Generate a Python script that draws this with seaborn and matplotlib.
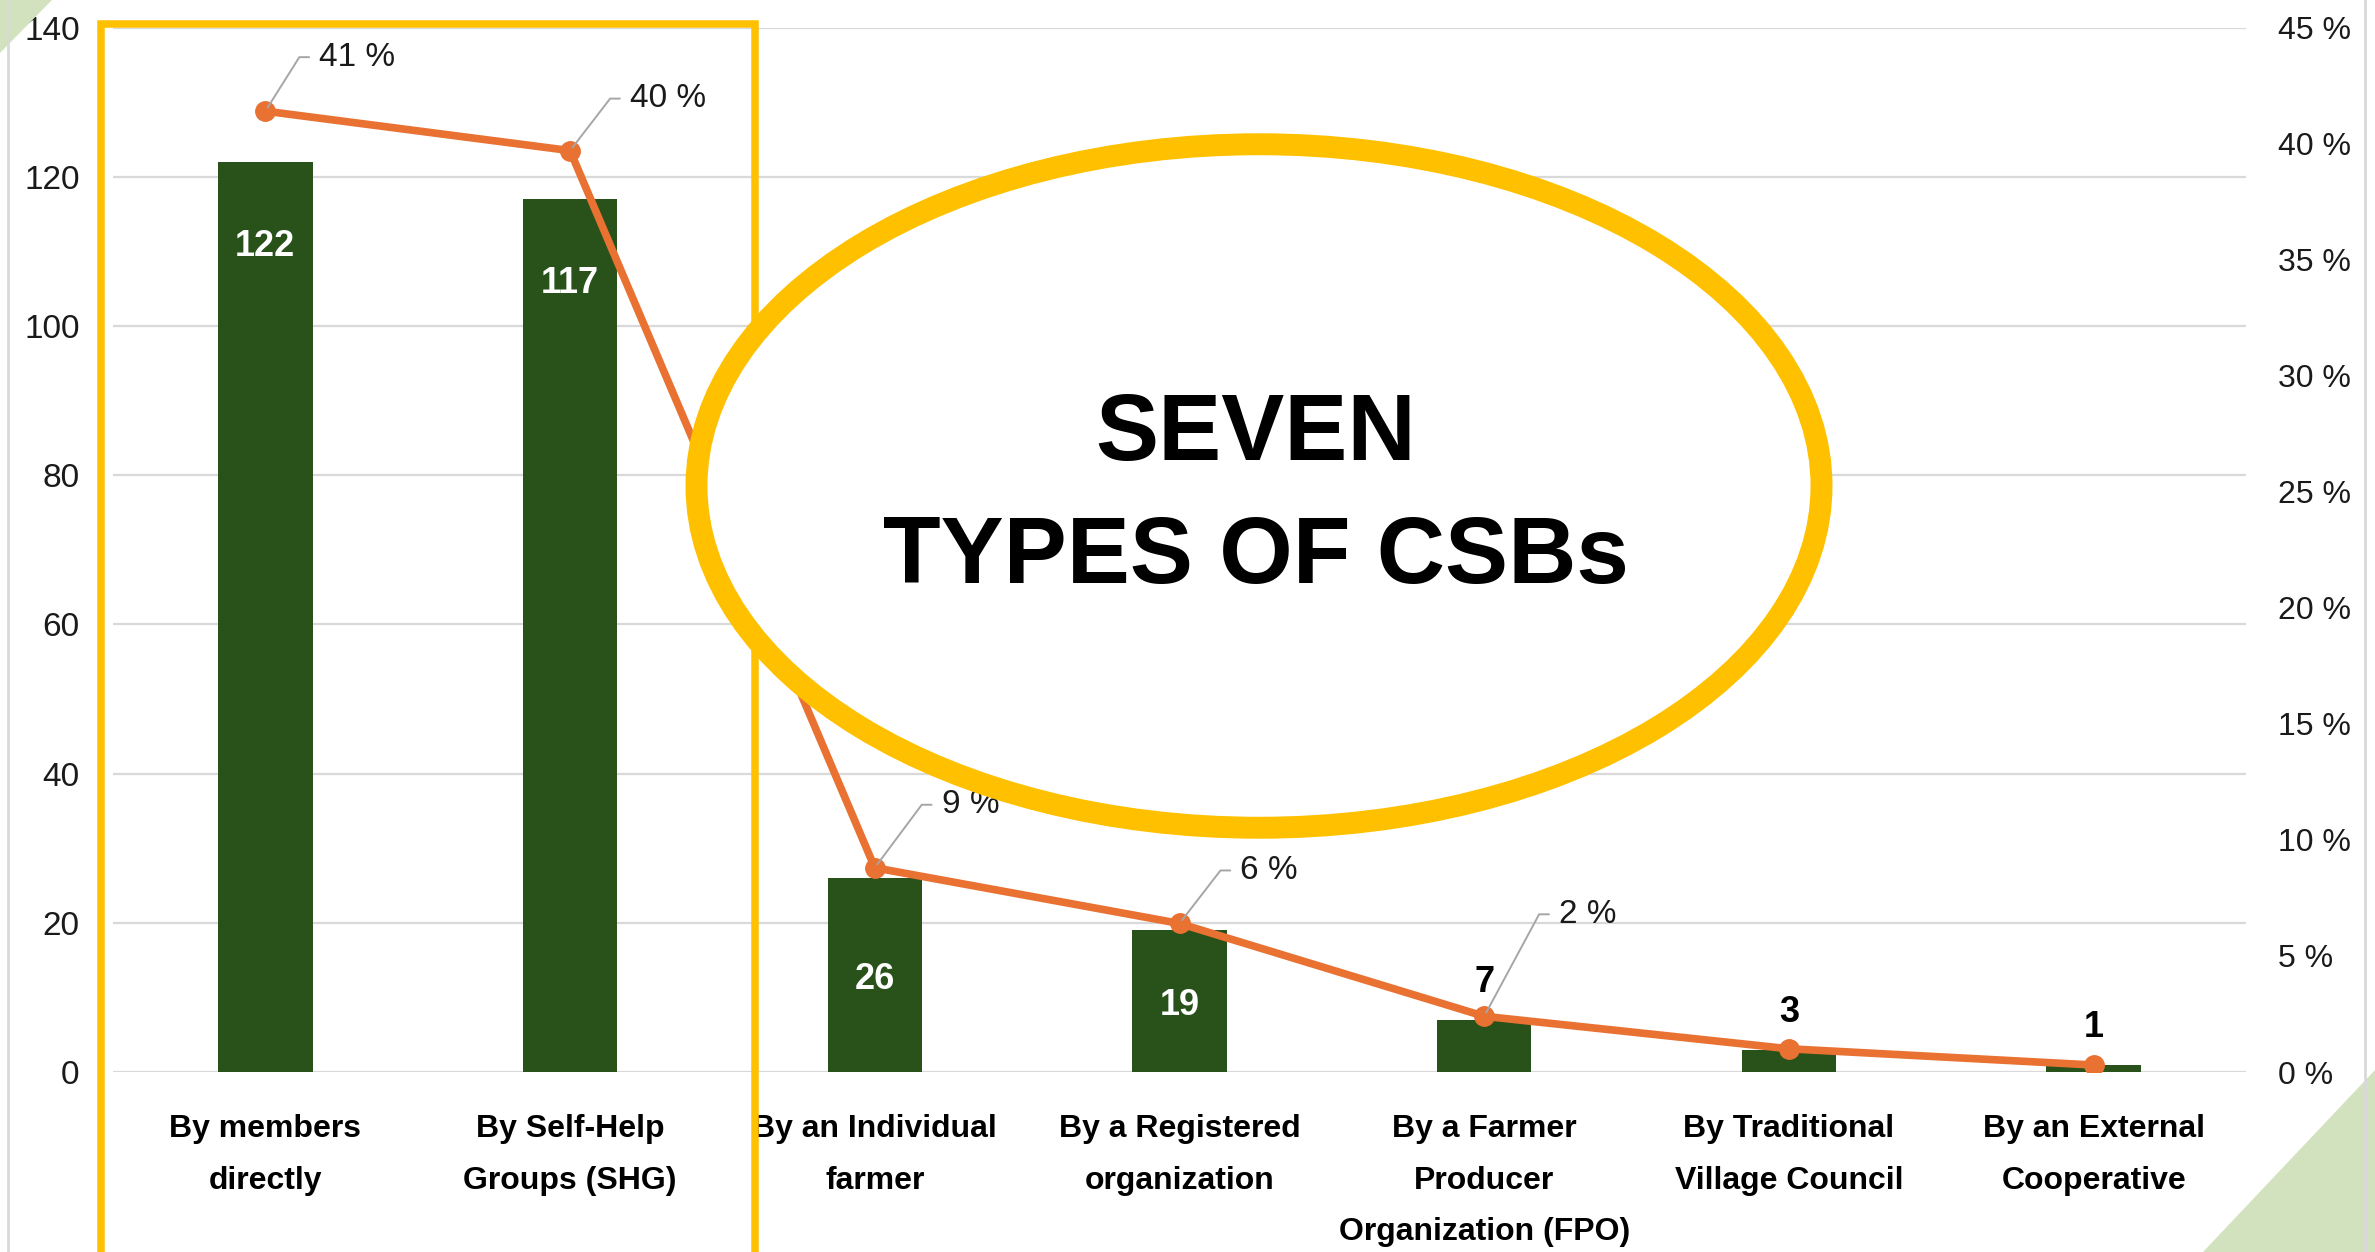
import math
import numpy as np
import seaborn as sns
import matplotlib.pyplot as plt
from matplotlib import patches

# data
categories = ["By members\ndirectly", "By Self-Help\nGroups (SHG)", "By an Individual\nfarmer",
              "By a Registered\norganization", "By a Farmer\nProducer\nOrganization (FPO)",
              "By Traditional\nVillage Council", "By an External\nCooperative"]
counts = [122, 117, 26, 19, 7, 3, 1]
share_pct = [41.4, 39.7, 8.8, 6.4, 2.4, 1.0, 0.3]
left_ticks = list(range(0, 141, 20))
right_ticks = list(range(0, 46, 5))
n_pct_labels = 5

GREEN = "#28521A"
ORANGE = "#E97132"
YELLOW = "#FFC000"
GRID = "#D9D9D9"
W, H = 2375, 1252

sns.set_style("white")
plt.rcParams["font.family"] = ["Liberation Sans Narrow", "Liberation Sans", "DejaVu Sans"]
plt.rcParams["text.color"] = "black"

fig = plt.figure(figsize=(W / 100, H / 100), dpi=100)
ax = fig.add_axes([113 / W, 1 - 1072 / H, (2246 - 113) / W, (1072 - 27.6) / H])

sns.barplot(x=categories, y=counts, ax=ax, color=GREEN, saturation=1, width=0.31, linewidth=0)
ax.set_ylim(0, 140)
ax.set_yticks(left_ticks)
ax.yaxis.grid(True, color=GRID, lw=1.6)
ax.set_axisbelow(True)
ax.set_xlabel("")
ax.set_ylabel("")
ax.tick_params(axis="y", length=0, pad=24, labelsize=24, labelcolor="#1a1a1a")
ax.tick_params(axis="x", length=0, pad=30, labelsize=23, labelcolor="black")
for t in ax.get_xticklabels():
    t.set_fontweight("bold")
    t.set_linespacing(1.95)
for s in ax.spines.values():
    s.set_visible(False)

# bar value labels
for i, v in enumerate(counts):
    if v > 50:
        ax.annotate(str(v), (i, v), xytext=(0, -61), textcoords="offset points", ha="center",
                    va="center", color="white", fontsize=26, fontweight="bold")
    elif v > 10:
        ax.annotate(str(v), (i, v / 2), xytext=(0, -3), textcoords="offset points",
                    ha="center", va="center", color="white", fontsize=26, fontweight="bold")
    else:
        ax.annotate(str(v), (i, v), xytext=(0, 27), textcoords="offset points", ha="center",
                    va="center", color="black", fontsize=26, fontweight="bold")

ax2 = ax.twinx()
sns.lineplot(x=np.arange(len(categories)), y=share_pct, ax=ax2, color=ORANGE, linewidth=5.5,
             marker="o", markersize=14, markeredgecolor=ORANGE, markeredgewidth=1)
ax2.set_ylim(0, 45)
ax2.set_yticks(right_ticks)
ax2.set_yticklabels([f"{t} %" for t in right_ticks])
ax2.tick_params(axis="y", length=0, pad=23, labelsize=23, labelcolor="#1a1a1a")
ax2.set_ylabel("")
for s in ax2.spines.values():
    s.set_visible(False)
ax.set_xlim(-0.5, len(categories) - 0.5)

# percent labels with leader lines (offsets in pixels: text left / middle vs point)
label_offsets = [(54, 54), (60, 52), (67, 63), (61, 53), (75, 102)]
for i in range(n_pct_labels):
    dx, dy = label_offsets[i]
    ang = math.degrees(math.atan2(dy, dx - 20))
    ax2.annotate(f"{round(share_pct[i])} %", (i, share_pct[i]),
                 xytext=(dx * 0.72, dy * 0.72), textcoords="offset points",
                 ha="left", va="center", fontsize=24, color="#1a1a1a",
                 arrowprops=dict(arrowstyle="-", color="#A6A6A6", lw=1.4, shrinkA=5, shrinkB=3,
                                 relpos=(0, 0.5),
                                 connectionstyle=f"angle,angleA=0,angleB={ang:.1f},rad=0"))

# slide decorations
fig.add_artist(plt.Line2D([8 / W, 8 / W], [0, 1], color=GRID, lw=2, transform=fig.transFigure))
fig.add_artist(plt.Line2D([2365 / W, 2365 / W], [0, 1], color=GRID, lw=2, transform=fig.transFigure))
fig.add_artist(patches.Polygon([(0, 1), (52 / W, 1), (0, 1 - 53 / H)], closed=True,
                               transform=fig.transFigure, fc="#D3E2BE", ec="none"))
fig.add_artist(patches.Polygon([(2203 / W, 0), (1, 182 / H), (1, 0)], closed=True,
                               transform=fig.transFigure, fc="#D3E2BE", ec="none"))
fig.add_artist(patches.Rectangle((100.5 / W, 1 - 1300 / H), (755 - 100.5) / W, (1300 - 24) / H,
                                 transform=fig.transFigure, fill=False, ec=YELLOW, lw=5.4))
fig.add_artist(patches.Ellipse((1259 / W, 1 - 486 / H), 1125 / W, 683.5 / H,
                               transform=fig.transFigure, fc="white", ec=YELLOW, lw=15.8))
fig.text(1256 / W, 1 - 497 / H, "SEVEN\nTYPES OF CSBs", ha="center", va="center",
         fontsize=68, fontweight="bold", color="black", family=["Liberation Sans", "DejaVu Sans"],
         linespacing=1.5, zorder=5)

fig.savefig("out.png", dpi=100, facecolor="white")
